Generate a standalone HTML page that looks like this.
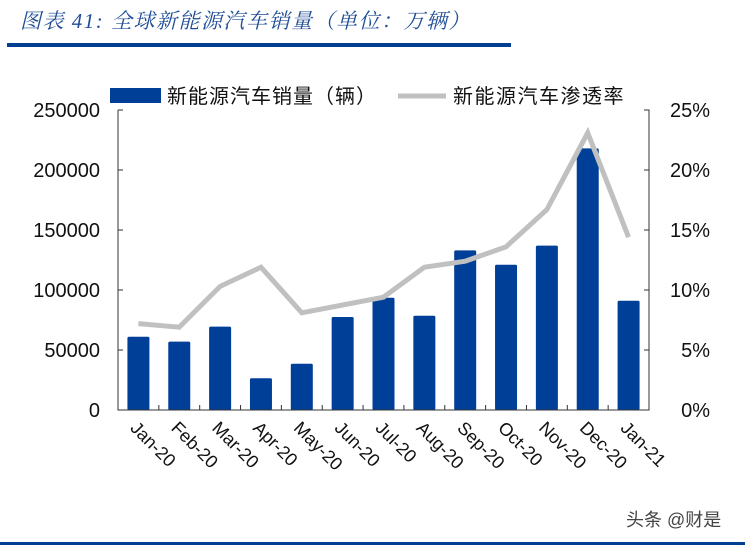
<!DOCTYPE html>
<html><head><meta charset="utf-8"><style>
body{margin:0;background:#fff;}
svg{display:block;font-family:"Liberation Sans","Noto Sans CJK SC",sans-serif;}
</style></head><body>
<svg width="745" height="547" viewBox="0 0 745 547">
<text x="20" y="28" font-size="21" font-style="italic" fill="#1f4e96" letter-spacing="1.5" font-family="'Liberation Serif','Noto Serif CJK SC',serif">图表 41:  全球新能源汽车销量（单位：万辆）</text>
<rect x="7" y="43" width="504" height="4" fill="#003f8f"/>
<rect x="0" y="542" width="745" height="3" fill="#003f8f"/>
<g>
<rect x="110" y="88" width="51" height="15" fill="#003f98"/>
<text x="167" y="103" font-size="20" letter-spacing="1" fill="#111">新能源汽车销量（辆）</text>
<line x1="398" y1="96" x2="446" y2="96" stroke="#c0c0c0" stroke-width="5"/>
<text x="453" y="103" font-size="20" letter-spacing="1.5" fill="#111">新能源汽车渗透率</text>
</g>
<g id="plot"></g>
<text x="626" y="526" font-size="18" fill="#444">头条 @财是</text>
</svg>
<script>
const categories=["Jan-20","Feb-20","Mar-20","Apr-20","May-20","Jun-20","Jul-20","Aug-20","Sep-20","Oct-20","Nov-20","Dec-20","Jan-21"];
const sales=[61000,57000,69500,26500,38500,77500,93500,78500,133000,121000,137000,218000,91000];
const rate=[7.2,6.9,10.3,11.9,8.1,8.75,9.4,11.9,12.4,13.6,16.7,23.1,14.4];
const leftTicks=[0,50000,100000,150000,200000,250000];
const leftTickLabels=["0","50000","100000","150000","200000","250000"];
const rightTicks=[0,5,10,15,20,25];
const rightTickLabels=["0%","5%","10%","15%","20%","25%"];
const NS="http://www.w3.org/2000/svg";
const g=document.getElementById('plot');
const X0=118,X1=649,Y0=410,Y1=110;
const step=(X1-X0)/categories.length;
const yL=v=>Y0-(v/250000)*(Y0-Y1);
const yR=v=>Y0-(v/25)*(Y0-Y1);
const xC=i=>X0+step*(i+0.5);
function mk(t,a){const e=document.createElementNS(NS,t);for(const k in a)e.setAttribute(k,a[k]);g.appendChild(e);return e;}
sales.forEach((v,i)=>{
 const e=mk('rect',{x:xC(i)-11,y:yL(v),width:22,height:Y0-yL(v),fill:'#003f98',rx:1.5});
 
 
});
let a=mk('path',{d:`M${X0},${Y1} V${Y0} H${X1} V${Y1} h-4`,fill:'none',stroke:'#333','stroke-width':1});


leftTicks.forEach((v,i)=>{
 const t=mk('line',{x1:X0,x2:X0+5,y1:yL(v),y2:yL(v),stroke:'#333'});
 
 
 const l=mk('text',{x:100,y:yL(v)+7,'font-size':20,'text-anchor':'end',fill:'#111'});
 l.textContent=leftTickLabels[i];
 
 
});
rightTicks.forEach((v,i)=>{
 const t=mk('line',{x1:X1-5,x2:X1,y1:yR(v),y2:yR(v),stroke:'#333'});
 
 
 const l=mk('text',{x:710,y:yR(v)+7,'font-size':20,'text-anchor':'end',fill:'#111'});
 l.textContent=rightTickLabels[i];
 
 
});
categories.forEach((c,i)=>{
 if(i>0){const t=mk('line',{x1:X0+step*i,x2:X0+step*i,y1:Y0,y2:Y0-5,stroke:'#333'});
 
 }
 const cx=xC(i)-9,cy=429;
 const l=mk('text',{x:cx,y:cy,'font-size':18,fill:'#111',transform:`rotate(45 ${cx} ${cy})`});
 l.textContent=c;
 
 
});
const pts=rate.map((v,i)=>xC(i)+','+yR(v)).join(' ');
const pl=mk('polyline',{points:pts,fill:'none',stroke:'#c0c0c0','stroke-width':5,'stroke-linejoin':'miter'});


</script>
</body></html>
